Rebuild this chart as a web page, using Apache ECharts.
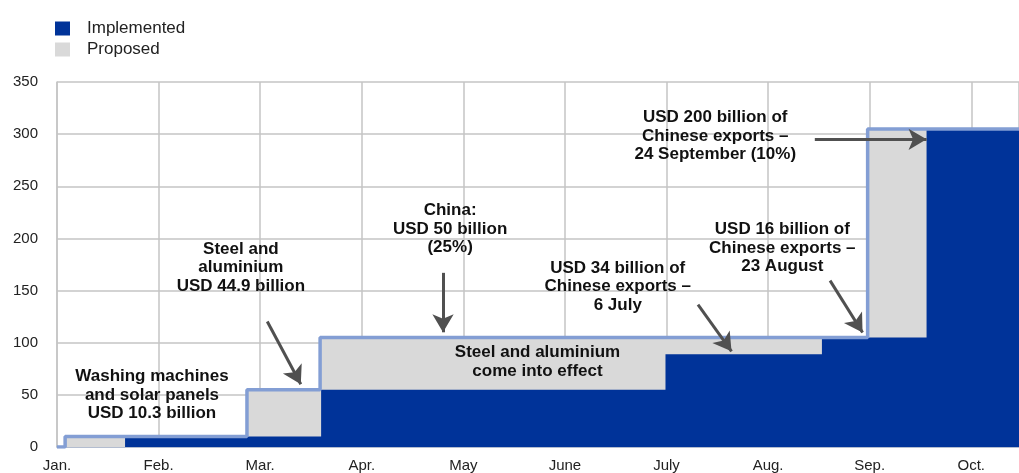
<!DOCTYPE html>
<html>
<head>
<meta charset="utf-8">
<script src="https://cdn.jsdelivr.net/npm/echarts@6/dist/echarts.min.js"></script>
<style>
  html, body { margin: 0; padding: 0; background: #fff; }
  #chart { width: 1019px; height: 473px; }
</style>
</head>
<body>
<div id="chart"></div>
<script>
// month labels, x position = month index (0 = Jan.)
const months = ["Jan.", "Feb.", "Mar.", "Apr.", "May", "June", "July", "Aug.", "Sep.", "Oct."];

// step points: [month index where the level changes, new level in USD billion]
const proposedX = [0, 0.08, 1.87, 2.59, 7.98, 9.47];
const proposedY = [0, 10, 55, 105, 305, 305];
const implementedX = [0, 0.67, 2.6, 5.99, 7.53, 8.56, 9.47];
const implementedY = [0, 10, 55, 89, 105, 305, 305];

// annotations
const noteText = [
  "Washing machines\nand solar panels\nUSD 10.3 billion",
  "Steel and\naluminium\nUSD 44.9 billion",
  "China:\nUSD 50 billion\n(25%)",
  "Steel and aluminium\ncome into effect",
  "USD 34 billion of\nChinese exports –\n6 July",
  "USD 16 billion of\nChinese exports –\n23 August",
  "USD 200 billion of\nChinese exports –\n24 September (10%)"
];
const noteX = [0.935, 1.81, 3.87, 4.73, 5.52, 7.14, 6.48];
const noteY = [49.7, 172, 209, 81.7, 153.8, 191, 298];

// arrows: from -> to
const arrowFrom = [[2.07, 120.3], [3.80, 167], [6.31, 136.6], [7.61, 159.5], [7.46, 295]];
const arrowTo = [[2.40, 60.2], [3.80, 110], [6.64, 91.7], [7.93, 109.8], [8.56, 295]];

const zip = (xs, ys) => xs.map((x, i) => [x, ys[i]]);

const chart = echarts.init(document.getElementById("chart"), null, { renderer: "canvas" });

const option = {
  animation: false,
  textStyle: { fontFamily: "Liberation Sans, Arial, sans-serif" },
  legend: {
    orient: "vertical",
    left: 50,
    top: 15,
    itemWidth: 15,
    itemHeight: 14,
    itemGap: 4,
    icon: "rect",
    data: ["Implemented", "Proposed"],
    textStyle: { fontSize: 17, color: "#222", padding: [0, 0, 0, 12] }
  },
  grid: { left: 57, right: 0, top: 82, bottom: 25, containLabel: false },
  xAxis: {
    type: "value",
    min: 0,
    max: 9.47,
    interval: 1,
    axisLine: { show: true, lineStyle: { color: "#a9b6d0", width: 1.5 } },
    axisTick: { show: false },
    splitLine: { show: true, lineStyle: { color: "#c4c4c4", width: 1.5 } },
    axisLabel: {
      fontSize: 15,
      color: "#222",
      margin: 11,
      showMaxLabel: false,
      formatter: v => (Number.isInteger(v) && months[v]) ? months[v] : ""
    }
  },
  yAxis: {
    type: "value",
    min: 0,
    max: 350,
    interval: 50,
    axisLine: { show: true, lineStyle: { color: "#c4c4c4", width: 1.5 } },
    axisTick: { show: false },
    splitLine: { show: true, lineStyle: { color: "#c4c4c4", width: 1.5 } },
    axisLabel: { fontSize: 15, color: "#222", margin: 19 }
  },
  series: [
    {
      name: "Proposed",
      type: "line",
      step: "end",
      data: zip(proposedX, proposedY),
      showSymbol: false,
      itemStyle: { color: "#d9d9d9" },
      lineStyle: { width: 0 },
      areaStyle: { color: "#d9d9d9", opacity: 1 },
      z: 1
    },
    {
      name: "Implemented",
      type: "line",
      step: "end",
      data: zip(implementedX, implementedY),
      showSymbol: false,
      itemStyle: { color: "#003399" },
      lineStyle: { width: 0 },
      areaStyle: { color: "#003399", opacity: 1 },
      z: 2
    },
    {
      name: "ProposedOutline",
      type: "line",
      step: "end",
      data: zip(proposedX, proposedY),
      showSymbol: false,
      lineStyle: { color: "#839ed4", width: 3.5 },
      itemStyle: { color: "#839ed4" },
      z: 3,
      silent: true
    },
    {
      name: "notes",
      type: "scatter",
      data: [],
      silent: true,
      z: 5,
      markPoint: {
        symbol: "circle",
        symbolSize: 0,
        silent: true,
        label: {
          show: true,
          position: "inside",
          fontSize: 17,
          fontWeight: "bold",
          color: "#111",
          lineHeight: 18.5,
          align: "center",
          verticalAlign: "middle"
        },
        data: noteText.map((t, i) => ({
          coord: [noteX[i], noteY[i]],
          value: t,
          label: { formatter: t }
        }))
      },
      markLine: {
        silent: true,
        symbol: ["none", "arrow"],
        symbolSize: [16, 18],
        label: { show: false },
        lineStyle: { color: "#505050", width: 3, type: "solid" },
        data: arrowFrom.map((f, i) => [{ coord: f }, { coord: arrowTo[i] }])
      }
    }
  ]
};

chart.setOption(option);
</script>
</body>
</html>
